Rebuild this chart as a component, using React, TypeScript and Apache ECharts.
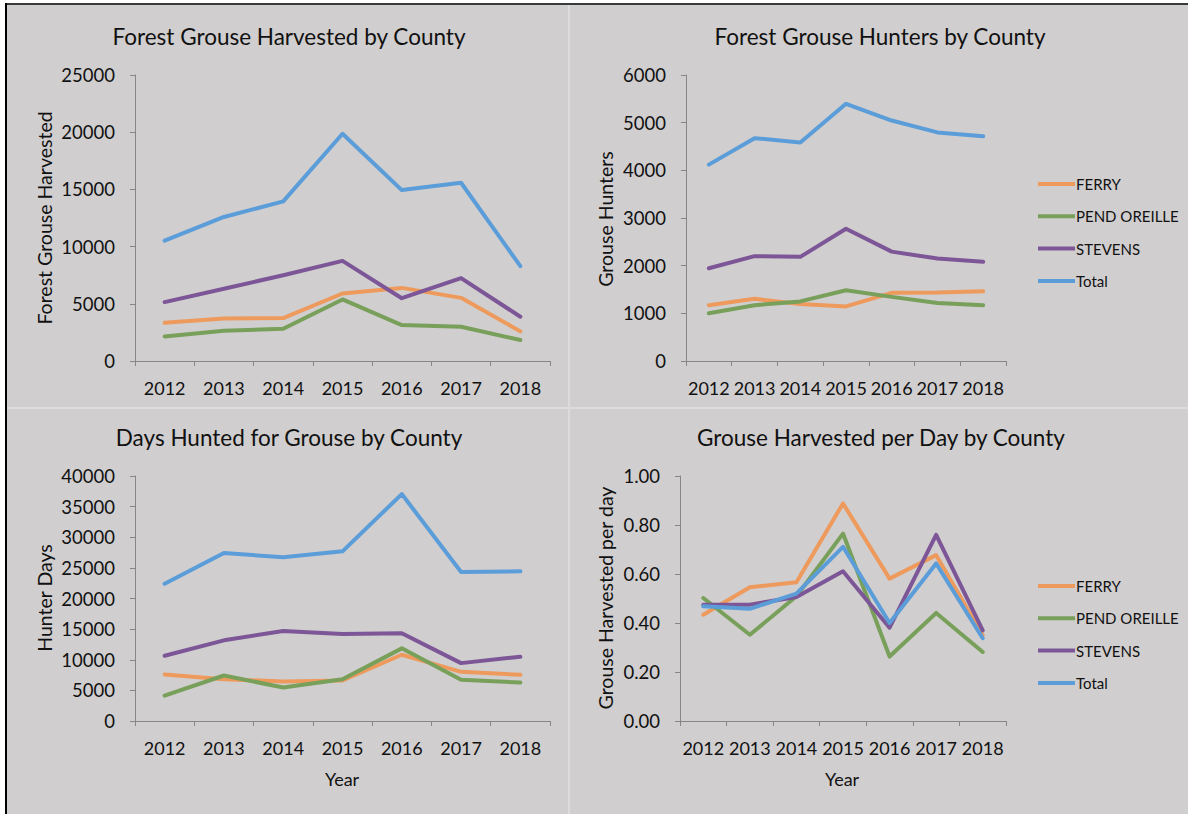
import React, { useEffect, useRef } from "react";
import * as echarts from "echarts";

const years = ["2012", "2013", "2014", "2015", "2016", "2017", "2018"];
const seriesNames = ["FERRY", "PEND OREILLE", "STEVENS", "Total"];

const harvestFerry = [3340, 3720, 3750, 5900, 6390, 5520, 2590];
const harvestPend = [2150, 2650, 2820, 5380, 3140, 2990, 1830];
const harvestStevens = [5150, 6310, 7500, 8750, 5490, 7240, 3870];
const harvestTotal = [10520, 12590, 13950, 19860, 14940, 15580, 8290];

const huntersFerry = [1170, 1305, 1195, 1145, 1430, 1435, 1465];
const huntersPend = [1000, 1170, 1250, 1485, 1345, 1215, 1170];
const huntersStevens = [1945, 2200, 2185, 2775, 2295, 2150, 2080];
const huntersTotal = [4120, 4675, 4585, 5395, 5045, 4795, 4715];

const daysFerry = [7600, 6830, 6450, 6610, 10820, 8030, 7540];
const daysPend = [4150, 7430, 5460, 6830, 11860, 6720, 6280];
const daysStevens = [10660, 13170, 14700, 14210, 14320, 9450, 10490];
const daysTotal = [22400, 27430, 26720, 27700, 37050, 24320, 24430];

const perDayFerry = [0.434, 0.546, 0.566, 0.888, 0.581, 0.677, 0.35];
const perDayPend = [0.502, 0.352, 0.509, 0.765, 0.263, 0.441, 0.282];
const perDayStevens = [0.475, 0.475, 0.506, 0.611, 0.381, 0.76, 0.37];
const perDayTotal = [0.468, 0.458, 0.52, 0.711, 0.4, 0.643, 0.338];

const titles = [
  "Forest Grouse Harvested by County",
  "Forest Grouse Hunters by County",
  "Days Hunted for Grouse by County",
  "Grouse Harvested per Day by County",
];
const yNames = ["Forest Grouse Harvested", "Grouse Hunters", "Hunter Days", "Grouse Harvested per day"];
const xName = "Year";
const yMax = [25000, 6000, 40000, 1];
const yStep = [5000, 1000, 5000, 0.2];

const colors = ["#EE9A5D", "#78A05A", "#7C5696", "#5B9DD9"];
const FONT = "Lato";
const TXT = "#111111";
const AXIS = "#868686";

export default function App() {
  const ref = useRef<HTMLDivElement>(null);
  useEffect(() => {
    document.body.style.margin = "0";
    if (!ref.current) return;
    const chart = echarts.init(ref.current, null, { renderer: "svg" });

    const data = [
      [harvestFerry, harvestPend, harvestStevens, harvestTotal],
      [huntersFerry, huntersPend, huntersStevens, huntersTotal],
      [daysFerry, daysPend, daysStevens, daysTotal],
      [perDayFerry, perDayPend, perDayStevens, perDayTotal],
    ];
    const grids = [
      { left: 135, top: 75, width: 415, height: 286 },
      { left: 686, top: 75, width: 320, height: 286 },
      { left: 135, top: 476, width: 415, height: 245 },
      { left: 680, top: 476, width: 326, height: 245 },
    ];
    const titlePos = [
      [289, 36],
      [880, 36],
      [289, 437],
      [881, 437],
    ];
    const yNamePos = [
      [44, 218],
      [605, 219],
      [44, 598],
      [605, 598],
    ];

    const graphic: any[] = [
      { type: "rect", z: -10, shape: { x: 0, y: 0, width: 1188, height: 814 }, style: { fill: "#ffffff" } },
      { type: "rect", z: -9, shape: { x: 6, y: 5, width: 1182, height: 809 }, style: { fill: "#D0CECF" } },
      { type: "rect", z: -8, shape: { x: 5, y: 3, width: 1183, height: 2 }, style: { fill: "#3a3a3a" } },
      { type: "rect", z: -8, shape: { x: 5, y: 3, width: 2, height: 811 }, style: { fill: "#000000" } },
      { type: "rect", z: -8, shape: { x: 568, y: 5, width: 2, height: 809 }, style: { fill: "#DCDCDC" } },
      { type: "rect", z: -8, shape: { x: 7, y: 407, width: 1181, height: 2 }, style: { fill: "#DCDCDC" } },
    ];
    titles.forEach((t, i) => {
      graphic.push({
        type: "text",
        x: titlePos[i][0],
        y: titlePos[i][1],
        style: { text: t, fill: TXT, font: `22.5px ${FONT}`, align: "center", verticalAlign: "middle" },
      });
    });
    yNames.forEach((t, i) => {
      graphic.push({
        type: "text",
        x: yNamePos[i][0],
        y: yNamePos[i][1],
        rotation: Math.PI / 2,
        style: { text: t, fill: TXT, font: `19.5px ${FONT}`, align: "center", verticalAlign: "middle" },
      });
    });
    [
      [342, 779],
      [842, 779],
    ].forEach((p) => {
      graphic.push({
        type: "text",
        x: p[0],
        y: p[1],
        style: { text: xName, fill: TXT, font: `18px ${FONT}`, align: "center", verticalAlign: "middle" },
      });
    });

    const series: any[] = [];
    data.forEach((set, gi) => {
      set.forEach((vals, si) => {
        series.push({
          type: "line",
          name: seriesNames[si],
          xAxisIndex: gi,
          yAxisIndex: gi,
          data: vals,
          symbol: "none",
          color: colors[si],
          lineStyle: { width: 4, color: colors[si], cap: "round", join: "round" },
        });
      });
    });

    const legendBase = {
      orient: "vertical",
      left: 1033,
      icon: "rect",
      itemWidth: 37,
      itemHeight: 4,
      itemGap: 14.3,
      data: seriesNames,
      textStyle: { fontFamily: FONT, fontSize: 15, color: TXT, lineHeight: 18, padding: [0, 0, 0, -4] },
    };

    chart.setOption({
      animation: false,
      graphic,
      grid: grids,
      legend: [
        { ...legendBase, top: 170 },
        { ...legendBase, top: 572 },
      ],
      xAxis: grids.map((_, i) => ({
        type: "category",
        gridIndex: i,
        data: years,
        boundaryGap: true,
        axisLine: { lineStyle: { color: AXIS, width: 1 } },
        axisTick: { show: true, length: 5, lineStyle: { color: AXIS } },
        axisLabel: { color: TXT, fontFamily: FONT, fontSize: 18, margin: 18, interval: 0 },
        splitLine: { show: false },
      })),
      yAxis: grids.map((_, i) => ({
        type: "value",
        gridIndex: i,
        min: 0,
        max: yMax[i],
        interval: yStep[i],
        axisLine: { show: true, lineStyle: { color: AXIS, width: 1 } },
        axisTick: { show: true, length: 5, lineStyle: { color: AXIS } },
        axisLabel: {
          color: TXT,
          fontFamily: FONT,
          fontSize: 18.5,
          margin: 20,
          formatter: i === 3 ? (v: number) => v.toFixed(2) : (v: number) => String(v),
        },
        splitLine: { show: false },
      })),
      series,
    });
    return () => chart.dispose();
  }, []);
  return <div ref={ref} style={{ width: 1188, height: 814 }} />;
}
